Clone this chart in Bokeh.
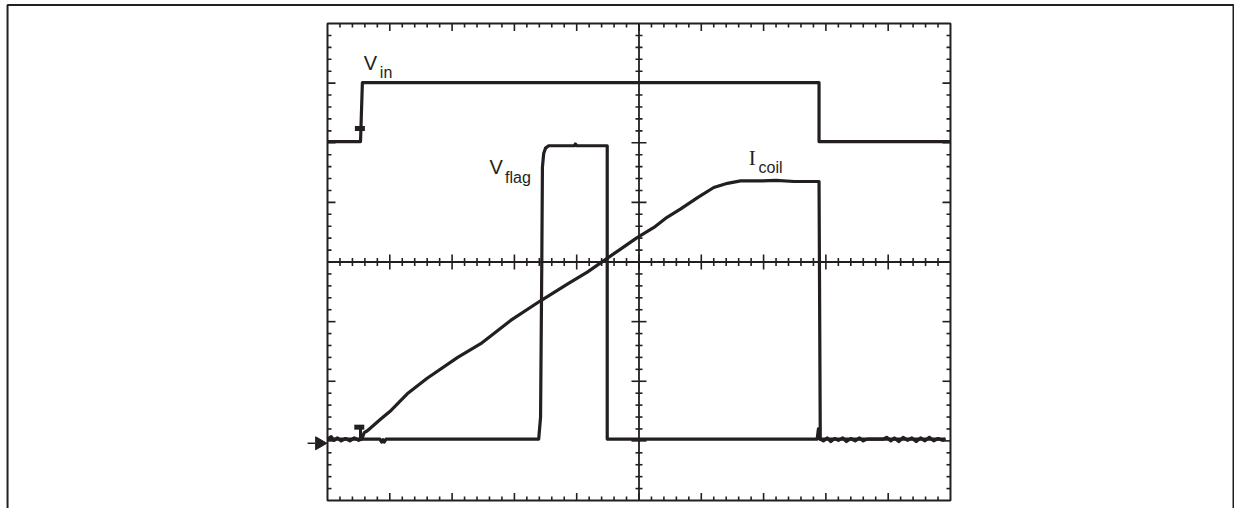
import numpy as np
from bokeh.plotting import figure
from bokeh.models import Range1d
from bokeh.core.properties import value
from bokeh.embed import file_html
from bokeh.resources import INLINE

INK = "#231f20"

# oscilloscope graticule: 10 x 8 divisions, 5 subdivisions each
N_XDIV = 10
N_YDIV = 8
SUBDIV = 5

# traces, in screen divisions (time, level)
vin_t = [0.0, 0.53, 0.56, 7.89, 7.89, 10.0]
vin_v = [6.02, 6.02, 7.01, 7.01, 6.02, 6.02]

vflag_t = [0.0, 0.84, 0.87, 0.89, 0.91, 0.94, 3.39, 3.42, 3.44, 3.45, 3.47, 3.50,
           3.55, 3.96, 3.98, 4.00, 4.49, 4.49, 7.86, 7.88, 7.90, 9.92]
vflag_v = [1.03, 1.03, 0.98, 1.02, 0.98, 1.03, 1.03, 1.40, 4.02, 5.59, 5.82, 5.91,
           5.95, 5.95, 5.98, 5.95, 5.95, 1.03, 1.03, 1.20, 1.03, 1.03]

icoil_t = [0.0, 0.06, 0.10, 0.16, 0.22, 0.29, 0.36, 0.43, 0.50, 0.55,
           0.59, 0.64, 0.86, 1.02, 1.15, 1.28, 1.60, 2.09, 2.46, 2.94, 3.42,
           3.85, 4.17, 4.43, 4.71, 4.97, 5.24, 5.45, 5.67, 5.94, 6.20, 6.42,
           6.63, 6.95, 7.20, 7.49, 7.89,
           7.91, 7.96, 8.02, 8.08, 8.14, 8.20, 8.27, 8.33, 8.40, 8.47, 8.54,
           8.60, 8.66, 8.92, 8.98, 9.04, 9.10, 9.17, 9.24, 9.31, 9.38, 9.45,
           9.52, 9.59, 9.66, 9.73, 9.80, 9.87, 9.92]
icoil_v = [1.03, 1.07, 1.01, 1.05, 1.00, 1.04, 1.00, 1.05, 1.01, 1.03,
           1.14, 1.17, 1.37, 1.51, 1.65, 1.79, 2.05, 2.40, 2.63, 3.02, 3.35,
           3.63, 3.83, 4.02, 4.22, 4.41, 4.58, 4.75, 4.89, 5.08, 5.25, 5.32,
           5.36, 5.36, 5.37, 5.35, 5.35,
           1.03, 1.00, 1.05, 0.99, 1.04, 1.01, 1.05, 0.99, 1.04, 1.00, 1.05,
           1.00, 1.03, 1.03, 1.06, 1.00, 1.05, 0.99, 1.06, 1.01, 1.05, 0.99,
           1.05, 1.00, 1.06, 1.00, 1.04, 1.01, 1.03]

# trigger markers and ground reference
trig_t = [0.52, 0.51]
trig_v = [6.24, 1.23]
trig_stem_t = [0.53, 0.53]
trig_stem_v = [1.23, 1.03]
ground_level = 0.96
ground_tip_t = [-0.13]
ground_tail_t = [-0.32, -0.20]

# trace labels: main letter and subscript
label_main = ["V", "V"]
label_main_t = [0.58, 2.60]
label_main_v = [7.335, 5.60]
label_sub = ["in", "flag", "coil"]
label_sub_t = [0.84, 2.85, 6.92]
label_sub_v = [7.18, 5.42, 5.59]
label_serif = ["I"]
label_serif_t = [6.76]
label_serif_v = [5.75]

# visible area around the graticule and the page frame (in divisions)
view_x = (-5.249, 14.559)
view_y = (-0.134, 8.386)
page_t = [-5.136, -5.136, 14.543, 14.543]
page_v = [-0.5, 8.31, 8.31, -0.5]

p = figure(width=1234, height=508,
           x_range=Range1d(*view_x), y_range=Range1d(*view_y),
           x_axis_type=None, y_axis_type=None,
           toolbar_location=None, output_backend="svg",
           min_border=0)
p.background_fill_color = "white"
p.border_fill_color = "white"
p.outline_line_color = None

# outer page frame
p.line(page_t, page_v, line_color=INK, line_width=2)

# graticule frame and center crosshair
p.quad(left=[0], right=[N_XDIV], bottom=[0], top=[N_YDIV],
       fill_color=None, line_color=INK, line_width=2)
p.segment(x0=[N_XDIV / 2, 0], y0=[0, N_YDIV / 2], x1=[N_XDIV / 2, N_XDIV],
          y1=[N_YDIV, N_YDIV / 2], line_color=INK, line_width=1.8)

# graticule ticks
xt = np.arange(1, N_XDIV * SUBDIV) / SUBDIV
yt = np.arange(1, N_YDIV * SUBDIV) / SUBDIV
x_major = np.isclose(xt, np.round(xt))
y_major = np.isclose(yt, np.round(yt))
xlen = np.where(x_major, 7.5, 4)
ylen = np.where(y_major, 8, 4)
# inward ticks on the frame
p.ray(x=xt, y=np.zeros_like(xt), length=xlen, length_units="screen",
      angle=np.pi / 2, line_color=INK, line_width=1.6)
p.ray(x=xt, y=np.full_like(xt, N_YDIV), length=xlen, length_units="screen",
      angle=-np.pi / 2, line_color=INK, line_width=1.6)
p.ray(x=np.zeros_like(yt), y=yt, length=ylen, length_units="screen",
      angle=0, line_color=INK, line_width=1.6)
p.ray(x=np.full_like(yt, N_XDIV), y=yt, length=ylen, length_units="screen",
      angle=np.pi, line_color=INK, line_width=1.6)
# crossing ticks on the crosshair
p.scatter(x=xt, y=np.full_like(xt, N_YDIV / 2), marker="dash", size=2 * xlen,
          angle=np.pi / 2, line_color=INK, line_width=1.6)
p.scatter(x=np.full_like(yt, N_XDIV / 2), y=yt, marker="dash", size=2 * ylen - 1,
          angle=0, line_color=INK, line_width=1.6)

# traces
for t, v in [(vin_t, vin_v), (vflag_t, vflag_v), (icoil_t, icoil_v)]:
    p.line(t, v, line_color=INK, line_width=3.2, line_join="round")

# trigger markers
p.rect(x=trig_t, y=trig_v, width=10, height=5, width_units="screen",
       height_units="screen", fill_color=INK, line_color=None)
p.line(trig_stem_t, trig_stem_v, line_color=INK, line_width=3)

# ground marker
p.line(ground_tail_t, [ground_level] * 2, line_color=INK, line_width=1.5)
p.scatter(x=ground_tip_t, y=[ground_level], marker="triangle", size=13,
          angle=-np.pi / 2, fill_color=INK, line_color=INK)

# labels
p.text(x=label_main_t, y=label_main_v, text=label_main, text_font=value("Liberation Sans"),
       text_font_size="20px", text_color=INK, text_align="left", text_baseline="alphabetic")
p.text(x=label_sub_t, y=label_sub_v, text=label_sub, text_font=value("Liberation Sans"),
       text_font_size="16px", text_color=INK, text_align="left", text_baseline="alphabetic")
p.text(x=label_serif_t, y=label_serif_v, text=label_serif, text_font=value("Liberation Serif"),
       text_font_size="21px", text_color=INK, text_align="left", text_baseline="alphabetic")

open("out.html", "w").write(file_html(p, INLINE))
